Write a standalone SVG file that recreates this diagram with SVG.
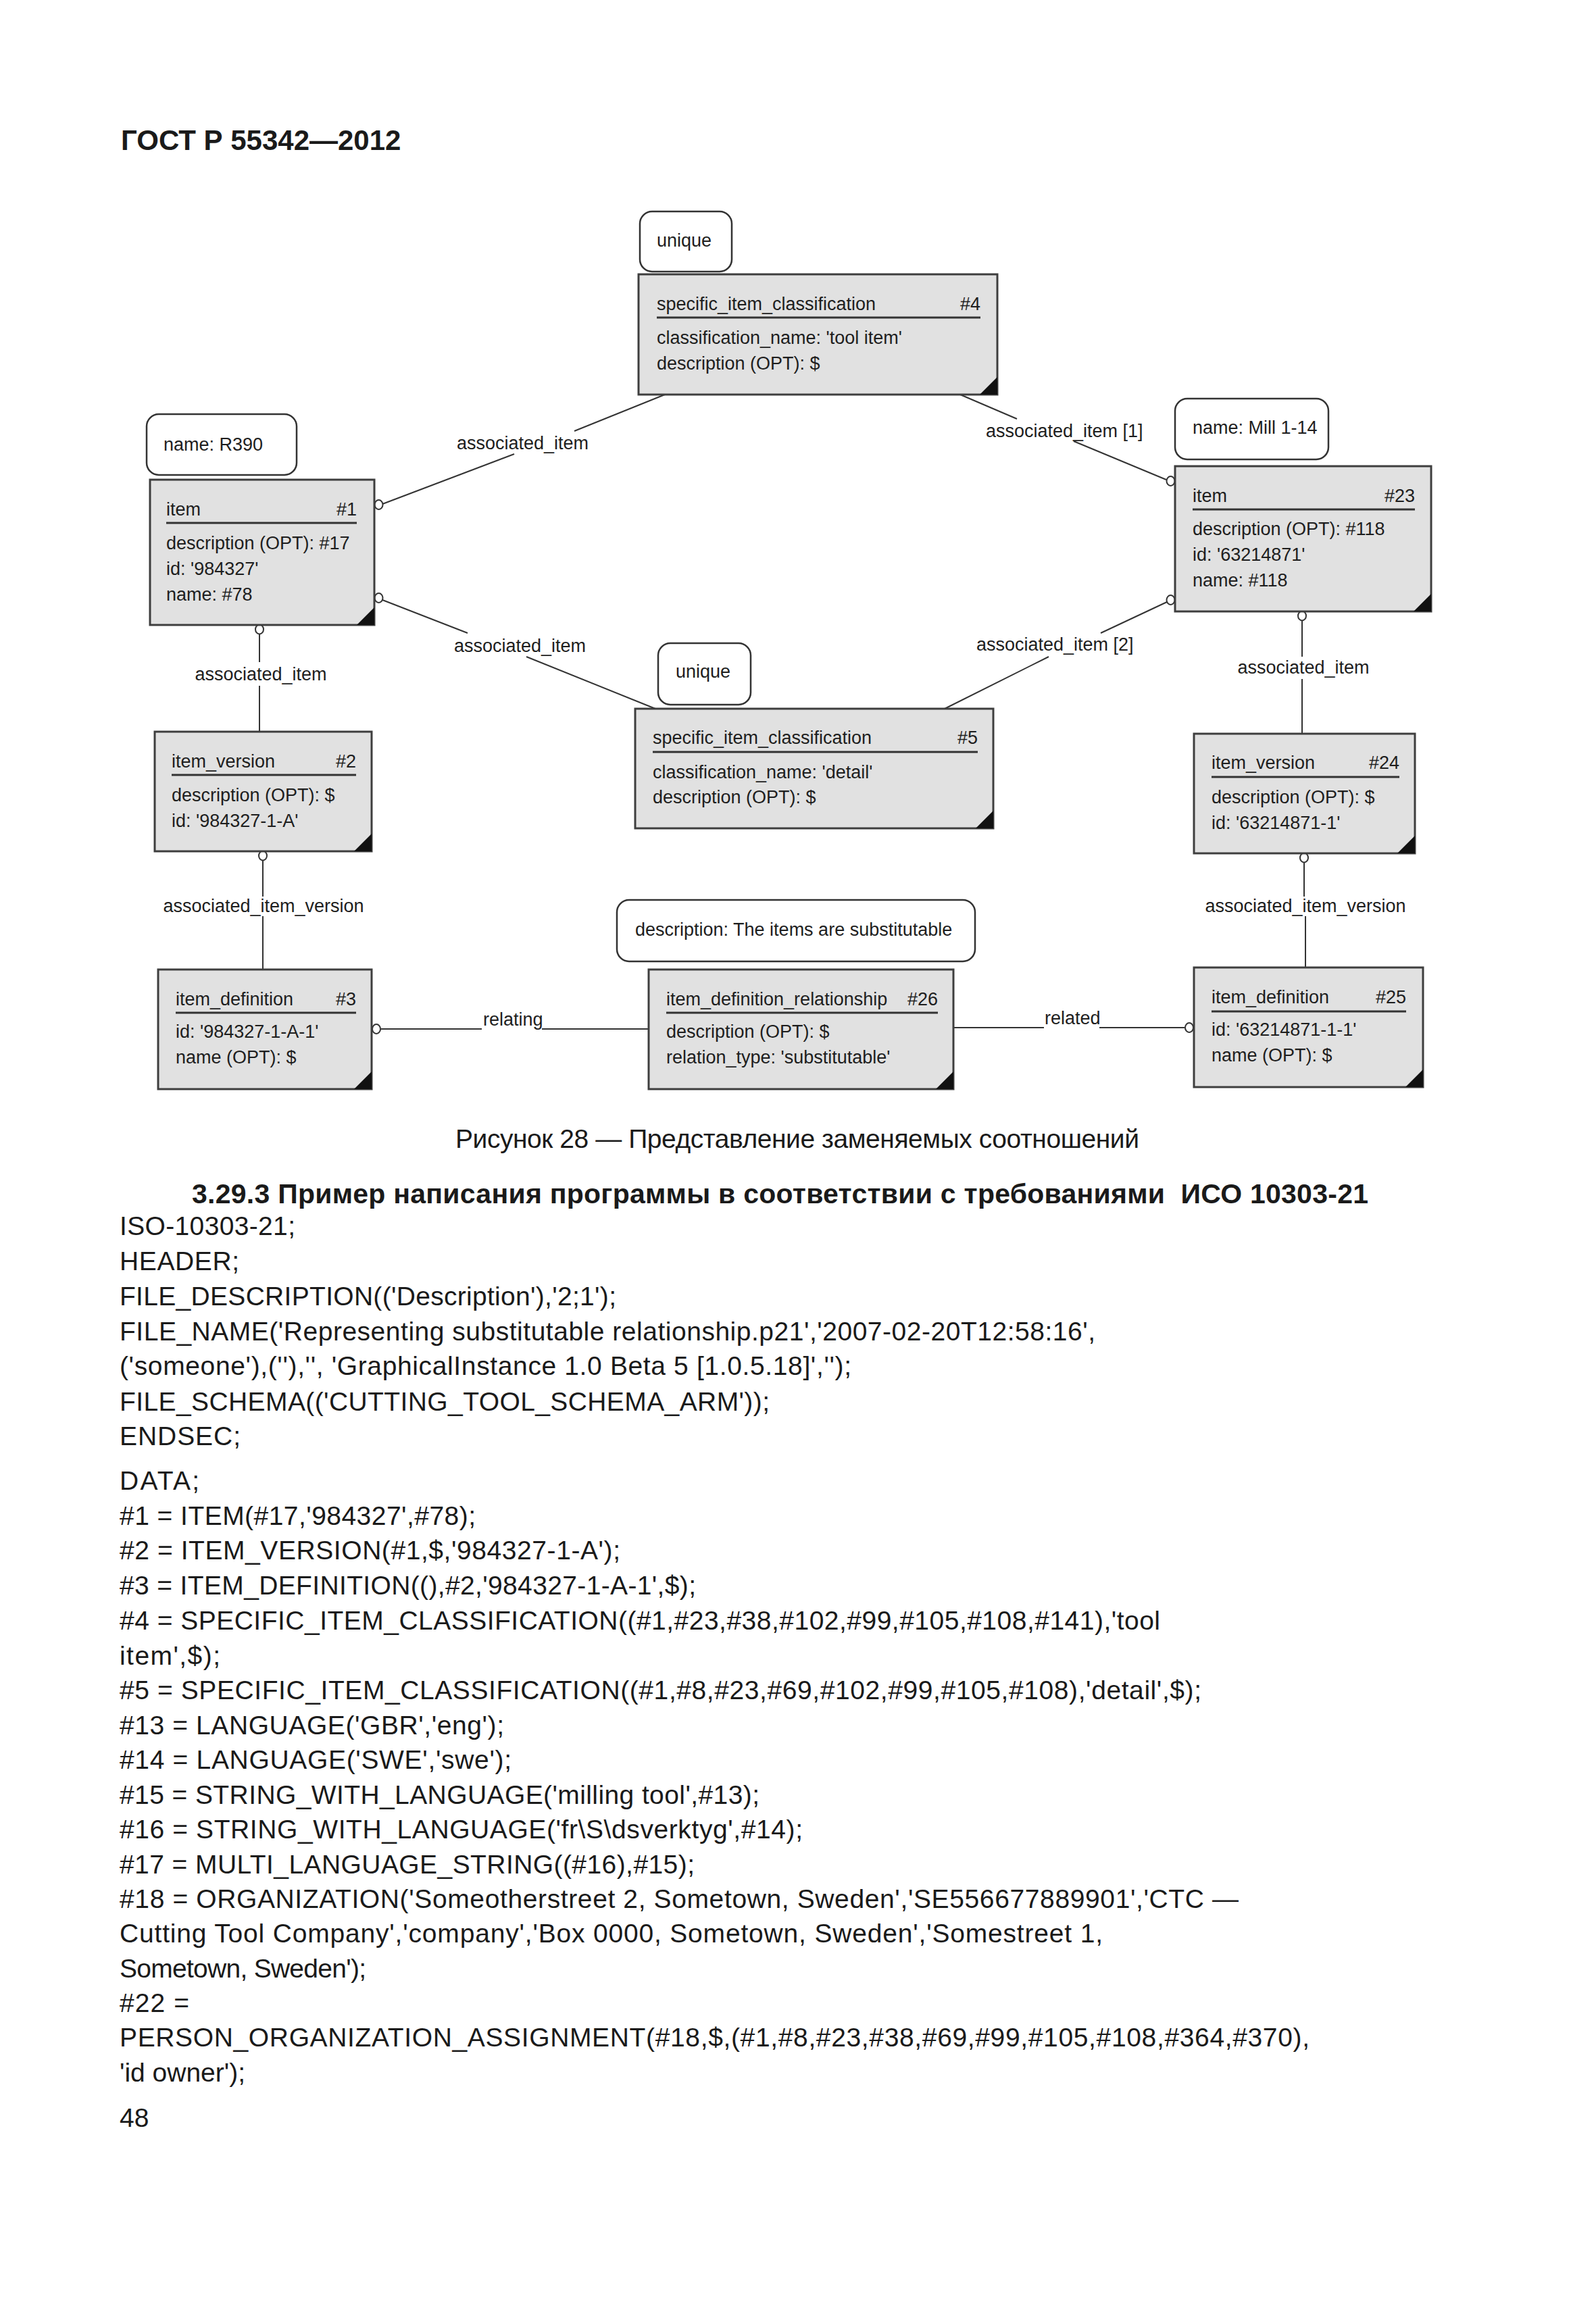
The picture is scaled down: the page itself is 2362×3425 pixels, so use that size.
<svg xmlns="http://www.w3.org/2000/svg" width="2362" height="3425" viewBox="0 0 2362 3425">
<style>
.box{fill:#e1e1e1;stroke:#3e3e3e;stroke-width:3}
.note{fill:#fff;stroke:#333;stroke-width:2.5}
.t{font-family:"Liberation Sans",Arial,sans-serif;font-size:27px;fill:#1e1e1e}
.e{text-anchor:end}
.m{text-anchor:middle}
.ul{stroke:#333;stroke-width:3}
.corner{fill:#111}
.conn{stroke:#333;stroke-width:2;fill:none}
.dot{fill:#fff;stroke:#333;stroke-width:2}
.doc{font-family:"Liberation Sans",Arial,sans-serif;font-size:39px;fill:#1a1a1a}
.hd{font-family:"Liberation Sans",Arial,sans-serif;font-weight:bold;fill:#1a1a1a}
</style>
<rect width="2362" height="3425" fill="#fff"/>
<text class="hd" x="179" y="222" font-size="42">ГОСТ Р 55342—2012</text>

<g id="connectors">
<!-- #4 - #1 -->
<line class="conn" x1="984" y1="584" x2="850" y2="638"/>
<line class="conn" x1="761" y1="672" x2="566" y2="746"/>
<text class="t" x="676" y="665">associated_item</text>
<!-- #4 - #23 -->
<line class="conn" x1="1421" y1="584" x2="1505" y2="620"/>
<line class="conn" x1="1589" y1="653" x2="1726" y2="710"/>
<text class="t" x="1459" y="647">associated_item [1]</text>
<!-- #1 - #5 -->
<line class="conn" x1="566" y1="888" x2="692" y2="937"/>
<line class="conn" x1="779" y1="972" x2="970" y2="1049"/>
<text class="t" x="672" y="965">associated_item</text>
<!-- #23 - #5 -->
<line class="conn" x1="1727" y1="891" x2="1629" y2="937"/>
<line class="conn" x1="1552" y1="972" x2="1398" y2="1049"/>
<text class="t" x="1445" y="963">associated_item [2]</text>
<!-- #1 - #2 -->
<line class="conn" x1="384" y1="938" x2="384" y2="980"/>
<line class="conn" x1="384" y1="1015" x2="384" y2="1083"/>
<text class="t m" x="386" y="1007">associated_item</text>
<!-- #2 - #3 -->
<line class="conn" x1="389" y1="1273" x2="389" y2="1327"/>
<line class="conn" x1="389" y1="1356" x2="389" y2="1435"/>
<text class="t m" x="390" y="1350">associated_item_version</text>
<!-- #23 - #24 -->
<line class="conn" x1="1927" y1="918" x2="1927" y2="972"/>
<line class="conn" x1="1927" y1="1005" x2="1927" y2="1086"/>
<text class="t m" x="1929" y="997">associated_item</text>
<!-- #24 - #25 -->
<line class="conn" x1="1930" y1="1276" x2="1930" y2="1327"/>
<line class="conn" x1="1932" y1="1356" x2="1932" y2="1432"/>
<text class="t m" x="1932" y="1350">associated_item_version</text>
<!-- #3 - #26 relating -->
<line class="conn" x1="564" y1="1523" x2="713" y2="1523"/>
<line class="conn" x1="802" y1="1523" x2="960" y2="1523"/>
<text class="t" x="715" y="1518">relating</text>
<!-- #26 - #25 related -->
<line class="conn" x1="1411" y1="1521" x2="1545" y2="1521"/>
<line class="conn" x1="1627" y1="1521" x2="1753" y2="1521"/>
<text class="t" x="1546" y="1516">related</text>
<!-- end circles -->
<ellipse class="dot" cx="560.5" cy="747" rx="6" ry="7"/>
<ellipse class="dot" cx="560.5" cy="885" rx="6" ry="7"/>
<ellipse class="dot" cx="384" cy="931.5" rx="6" ry="7"/>
<ellipse class="dot" cx="1732.5" cy="712" rx="6" ry="7"/>
<ellipse class="dot" cx="1732.5" cy="888" rx="6" ry="7"/>
<ellipse class="dot" cx="1927" cy="911.5" rx="6" ry="7"/>
<ellipse class="dot" cx="389" cy="1266.5" rx="6" ry="7"/>
<ellipse class="dot" cx="1930" cy="1269.5" rx="6" ry="7"/>
<ellipse class="dot" cx="557" cy="1523" rx="6" ry="7"/>
<ellipse class="dot" cx="1760" cy="1521" rx="6" ry="7"/>
</g>

<g id="note-unique1"><rect class="note" x="947" y="313" width="136" height="89" rx="18"/><text class="t" x="972" y="365">unique</text></g>
<g id="note-r390"><rect class="note" x="217" y="613" width="222" height="90" rx="18"/><text class="t" x="242" y="667">name: R390</text></g>
<g id="note-mill"><rect class="note" x="1739" y="590" width="227" height="90" rx="18"/><text class="t" x="1765" y="642">name: Mill 1-14</text></g>
<g id="note-unique2"><rect class="note" x="974" y="952" width="137" height="91" rx="18"/><text class="t" x="1000" y="1003">unique</text></g>
<g id="note-desc"><rect class="note" x="913" y="1332" width="530" height="91" rx="18"/><text class="t" x="940" y="1385">description: The items are substitutable</text></g>

<g id="e4">
<rect class="box" x="945" y="406" width="531" height="178"/>
<text class="t" x="972" y="459">specific_item_classification</text><text class="t e" x="1451" y="459">#4</text>
<line class="ul" x1="972" y1="470" x2="1451" y2="470"/>
<text class="t" x="972" y="509">classification_name: 'tool item'</text>
<text class="t" x="972" y="547">description (OPT): $</text>
<polygon class="corner" points="1476,558 1476,584 1450,584"/>
</g>
<g id="e1">
<rect class="box" x="222" y="710" width="332" height="215"/>
<text class="t" x="246" y="763">item</text><text class="t e" x="528" y="763">#1</text>
<line class="ul" x1="246" y1="774" x2="528" y2="774"/>
<text class="t" x="246" y="813">description (OPT): #17</text>
<text class="t" x="246" y="851">id: '984327'</text>
<text class="t" x="246" y="889">name: #78</text>
<polygon class="corner" points="554,899 554,925 528,925"/>
</g>
<g id="e23">
<rect class="box" x="1739" y="690" width="379" height="215"/>
<text class="t" x="1765" y="743">item</text><text class="t e" x="2094" y="743">#23</text>
<line class="ul" x1="1765" y1="754" x2="2094" y2="754"/>
<text class="t" x="1765" y="792">description (OPT): #118</text>
<text class="t" x="1765" y="830">id: '63214871'</text>
<text class="t" x="1765" y="868">name: #118</text>
<polygon class="corner" points="2118,879 2118,905 2092,905"/>
</g>
<g id="e5">
<rect class="box" x="940" y="1049" width="530" height="177"/>
<text class="t" x="966" y="1101">specific_item_classification</text><text class="t e" x="1447" y="1101">#5</text>
<line class="ul" x1="966" y1="1113" x2="1447" y2="1113"/>
<text class="t" x="966" y="1152">classification_name: 'detail'</text>
<text class="t" x="966" y="1189">description (OPT): $</text>
<polygon class="corner" points="1470,1200 1470,1226 1444,1226"/>
</g>
<g id="e2">
<rect class="box" x="229" y="1083" width="321" height="177"/>
<text class="t" x="254" y="1136">item_version</text><text class="t e" x="527" y="1136">#2</text>
<line class="ul" x1="254" y1="1147" x2="527" y2="1147"/>
<text class="t" x="254" y="1186">description (OPT): $</text>
<text class="t" x="254" y="1224">id: '984327-1-A'</text>
<polygon class="corner" points="550,1234 550,1260 524,1260"/>
</g>
<g id="e24">
<rect class="box" x="1767" y="1086" width="327" height="177"/>
<text class="t" x="1793" y="1138">item_version</text><text class="t e" x="2071" y="1138">#24</text>
<line class="ul" x1="1793" y1="1150" x2="2071" y2="1150"/>
<text class="t" x="1793" y="1189">description (OPT): $</text>
<text class="t" x="1793" y="1227">id: '63214871-1'</text>
<polygon class="corner" points="2094,1237 2094,1263 2068,1263"/>
</g>
<g id="e3">
<rect class="box" x="234" y="1435" width="316" height="177"/>
<text class="t" x="260" y="1488">item_definition</text><text class="t e" x="527" y="1488">#3</text>
<line class="ul" x1="260" y1="1499" x2="527" y2="1499"/>
<text class="t" x="260" y="1536">id: '984327-1-A-1'</text>
<text class="t" x="260" y="1574">name (OPT): $</text>
<polygon class="corner" points="550,1586 550,1612 524,1612"/>
</g>
<g id="e26">
<rect class="box" x="960" y="1435" width="451" height="177"/>
<text class="t" x="986" y="1488">item_definition_relationship</text><text class="t e" x="1388" y="1488">#26</text>
<line class="ul" x1="986" y1="1499" x2="1388" y2="1499"/>
<text class="t" x="986" y="1536">description (OPT): $</text>
<text class="t" x="986" y="1574">relation_type: 'substitutable'</text>
<polygon class="corner" points="1411,1586 1411,1612 1385,1612"/>
</g>
<g id="e25">
<rect class="box" x="1767" y="1432" width="339" height="177"/>
<text class="t" x="1793" y="1485">item_definition</text><text class="t e" x="2081" y="1485">#25</text>
<line class="ul" x1="1793" y1="1497" x2="2081" y2="1497"/>
<text class="t" x="1793" y="1533">id: '63214871-1-1'</text>
<text class="t" x="1793" y="1571">name (OPT): $</text>
<polygon class="corner" points="2106,1583 2106,1609 2080,1609"/>
</g>

<text class="doc" x="674" y="1699" font-size="35" textLength="1012" lengthAdjust="spacing">Рисунок 28 — Представление заменяемых соотношений</text>
<text class="hd" x="284" y="1781" font-size="41" textLength="1741" lengthAdjust="spacing">3.29.3 Пример написания программы в соответствии с требованиями&#160; ИСО 10303-21</text>

<g id="code">
<text class="doc" x="177" y="1828" textLength="260" lengthAdjust="spacing">ISO-10303-21;</text>
<text class="doc" x="177" y="1880" textLength="177" lengthAdjust="spacing">HEADER;</text>
<text class="doc" x="177" y="1932" textLength="735" lengthAdjust="spacing">FILE_DESCRIPTION(('Description'),'2;1');</text>
<text class="doc" x="177" y="1984" textLength="1444" lengthAdjust="spacing">FILE_NAME('Representing substitutable relationship.p21','2007-02-20T12:58:16',</text>
<text class="doc" x="177" y="2035" textLength="1083" lengthAdjust="spacing">('someone'),(''),'', 'GraphicalInstance 1.0 Beta 5 [1.0.5.18]','');</text>
<text class="doc" x="177" y="2088" textLength="962" lengthAdjust="spacing">FILE_SCHEMA(('CUTTING_TOOL_SCHEMA_ARM'));</text>
<text class="doc" x="177" y="2139" textLength="179" lengthAdjust="spacing">ENDSEC;</text>
<text class="doc" x="177" y="2205" textLength="118" lengthAdjust="spacing">DATA;</text>
<text class="doc" x="177" y="2257" textLength="527" lengthAdjust="spacing">#1 = ITEM(#17,'984327',#78);</text>
<text class="doc" x="177" y="2308" textLength="741" lengthAdjust="spacing">#2 = ITEM_VERSION(#1,$,'984327-1-A');</text>
<text class="doc" x="177" y="2360" textLength="853" lengthAdjust="spacing">#3 = ITEM_DEFINITION((),#2,'984327-1-A-1',$);</text>
<text class="doc" x="177" y="2412" textLength="1540" lengthAdjust="spacing">#4 = SPECIFIC_ITEM_CLASSIFICATION((#1,#23,#38,#102,#99,#105,#108,#141),'tool</text>
<text class="doc" x="177" y="2464" textLength="149" lengthAdjust="spacing">item',$);</text>
<text class="doc" x="177" y="2515" textLength="1601" lengthAdjust="spacing">#5 = SPECIFIC_ITEM_CLASSIFICATION((#1,#8,#23,#69,#102,#99,#105,#108),'detail',$);</text>
<text class="doc" x="177" y="2567" textLength="569" lengthAdjust="spacing">#13 = LANGUAGE('GBR','eng');</text>
<text class="doc" x="177" y="2618" textLength="580" lengthAdjust="spacing">#14 = LANGUAGE('SWE','swe');</text>
<text class="doc" x="177" y="2670" textLength="947" lengthAdjust="spacing">#15 = STRING_WITH_LANGUAGE('milling tool',#13);</text>
<text class="doc" x="177" y="2721" textLength="1011" lengthAdjust="spacing">#16 = STRING_WITH_LANGUAGE('fr\S\dsverktyg',#14);</text>
<text class="doc" x="177" y="2773" textLength="851" lengthAdjust="spacing">#17 = MULTI_LANGUAGE_STRING((#16),#15);</text>
<text class="doc" x="177" y="2824" textLength="1656" lengthAdjust="spacing">#18 = ORGANIZATION('Someotherstreet 2, Sometown, Sweden','SE556677889901','CTC —</text>
<text class="doc" x="177" y="2875" textLength="1455" lengthAdjust="spacing">Cutting Tool Company','company','Box 0000, Sometown, Sweden','Somestreet 1,</text>
<text class="doc" x="177" y="2927" textLength="365" lengthAdjust="spacing">Sometown, Sweden');</text>
<text class="doc" x="177" y="2978" textLength="103" lengthAdjust="spacing">#22 =</text>
<text class="doc" x="177" y="3029" textLength="1761" lengthAdjust="spacing">PERSON_ORGANIZATION_ASSIGNMENT(#18,$,(#1,#8,#23,#38,#69,#99,#105,#108,#364,#370),</text>
<text class="doc" x="177" y="3081" textLength="186" lengthAdjust="spacing">'id owner');</text>
</g>
<text class="doc" x="177" y="3148" font-size="36">48</text>
</svg>
